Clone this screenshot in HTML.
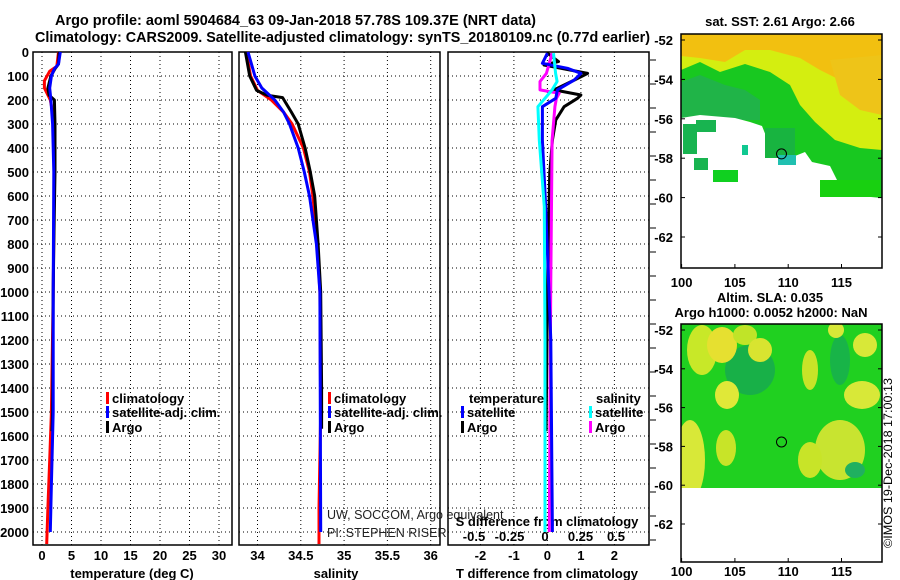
<!DOCTYPE html>
<html><head><meta charset="utf-8">
<style>
html,body{margin:0;padding:0;background:#fff;}
svg{display:block;font-family:"Liberation Sans",sans-serif;}
.b{font-weight:bold;font-size:13px;}
</style></head>
<body>
<svg id="chart" width="900" height="580" viewBox="0 0 900 580">
<defs>
<clipPath id="slaclip"><rect x="681" y="324" width="201" height="164"/></clipPath>
</defs>
<text class="b" x="55" y="25" textLength="481" lengthAdjust="spacingAndGlyphs" style="font-size:15px">Argo profile: aoml 5904684_63 09-Jan-2018 57.78S 109.37E (NRT data)</text>
<text class="b" x="35" y="42" textLength="615" lengthAdjust="spacingAndGlyphs" style="font-size:15px">Climatology: CARS2009. Satellite-adjusted climatology: synTS_20180109.nc (0.77d earlier)</text>
<g id="panels"></g>
<g id="maps">
<g>
<rect x="681" y="34" width="201" height="166" fill="#d4ee10"/>
<polygon points="681,34 882,34 882,75 850,85 820,70 800,58 770,50 745,50 725,62 700,58 681,56" fill="#f2c010"/>
<polygon points="830,60 882,55 882,115 860,110 840,95" fill="#eec418"/>
<polygon points="681,70 700,62 720,72 745,64 770,72 790,85 800,105 815,122 835,140 860,148 882,150 882,200 681,200" fill="#18c820"/>
<polygon points="681,82 700,75 725,85 745,90 760,100 760,120 681,120" fill="#20b448"/>
<polygon points="681,118 700,115 735,118 750,122 762,126 766,136 790,142 795,156 805,152 812,162 830,166 838,182 860,196 882,198 882,268 681,268" fill="#fff"/>
<rect x="683" y="124" width="14" height="30" fill="#18b450"/>
<rect x="696" y="120" width="20" height="12" fill="#18b450"/>
<rect x="694" y="158" width="14" height="12" fill="#18b450"/>
<rect x="742" y="145" width="6" height="10" fill="#10c890"/>
<rect x="713" y="170" width="25" height="12" fill="#10d020"/>
<rect x="765" y="128" width="30" height="30" fill="#18b440"/>
<rect x="778" y="155" width="18" height="10" fill="#20c0b0"/>
<rect x="820" y="180" width="60" height="17" fill="#18d010"/>
<rect x="681" y="34" width="201" height="234" fill="none" stroke="#000" stroke-width="1.5"/>
<circle cx="781.5" cy="153.9" r="5" fill="none" stroke="#000" stroke-width="1"/>
</g>
<g>
<g clip-path="url(#slaclip)">
<rect x="681" y="324" width="201" height="164" fill="#20d020"/>
<ellipse cx="702" cy="350" rx="15" ry="25" fill="#c8e828"/>
<ellipse cx="750" cy="370" rx="25" ry="25" fill="#18b048"/>
<ellipse cx="722" cy="345" rx="15" ry="18" fill="#e6e030"/>
<ellipse cx="745" cy="335" rx="12" ry="10" fill="#c0e428"/>
<ellipse cx="760" cy="350" rx="12" ry="12" fill="#d8e430"/>
<ellipse cx="727" cy="395" rx="12" ry="14" fill="#e0e838"/>
<ellipse cx="690" cy="460" rx="15" ry="40" fill="#d8e838"/>
<ellipse cx="726" cy="448" rx="10" ry="18" fill="#c8e428"/>
<ellipse cx="810" cy="370" rx="8" ry="20" fill="#c8e428"/>
<ellipse cx="840" cy="360" rx="10" ry="25" fill="#18b448"/>
<ellipse cx="862" cy="395" rx="18" ry="14" fill="#d8e838"/>
<ellipse cx="840" cy="450" rx="25" ry="30" fill="#c8e430"/>
<ellipse cx="810" cy="460" rx="12" ry="18" fill="#c8e428"/>
<ellipse cx="865" cy="345" rx="12" ry="12" fill="#d8e838"/>
<ellipse cx="836" cy="330" rx="8" ry="8" fill="#d8e838"/>
<ellipse cx="855" cy="470" rx="10" ry="8" fill="#20b060"/>
</g>
<rect x="681" y="324" width="201" height="238" fill="none" stroke="#000" stroke-width="1.5"/>
<circle cx="781.5" cy="442" r="5" fill="none" stroke="#000" stroke-width="1"/>
</g>
<text class="b" x="780" y="26" text-anchor="middle">sat. SST: 2.61 Argo: 2.66</text>
<text class="b" x="770" y="302" text-anchor="middle">Altim. SLA: 0.035</text>
<text class="b" x="771" y="317" text-anchor="middle">Argo h1000: 0.0052 h2000: NaN</text>
<text x="892" y="548" transform="rotate(-90 892 548)" style="font-size:12px" textLength="170" lengthAdjust="spacingAndGlyphs">©IMOS 19-Dec-2018 17:00:13</text>
<g id="mapaxes"></g>
</g>
</svg>
<script>
const tArgoDepth=[0,50,70,100,150,180,200,300,400,500,800,1000,1500,1580];
const tArgo=[2.9,2.8,2.2,1.5,1.0,1.2,2.1,2.2,2.2,2.2,2.0,1.9,1.8,1.7];
const tClimDepth=[0,60,80,120,150,200,250,300,500,1000,1500,1700,1900,2050];
const tClim=[2.8,2.5,1.3,0.4,0.4,1.4,1.8,2.0,2.1,1.9,1.6,1.3,1.0,0.8];
const tSatDepth=[0,50,70,100,150,200,300,500,1000,1500,1800,2000];
const tSat=[3.1,2.8,2.1,1.6,1.3,1.5,1.8,2.0,1.9,1.9,1.6,1.4];
const sArgoDepth=[0,100,160,180,190,250,300,400,500,600,800,1000,1400,1570];
const sArgo=[33.86,33.91,33.99,34.11,34.29,34.39,34.47,34.55,34.61,34.66,34.70,34.73,34.74,34.74];
const sClimDepth=[0,100,160,200,250,300,400,500,600,800,1000,1500,1900,2050];
const sClim=[33.87,33.92,34.0,34.16,34.3,34.4,34.53,34.6,34.64,34.69,34.72,34.73,34.71,34.71];
const sSatDepth=[0,100,150,200,250,300,400,500,600,800,1000,2000];
const sSat=[33.89,33.97,34.05,34.2,34.3,34.37,34.47,34.54,34.6,34.68,34.72,34.73];
const dtArgoDepth=[5,40,54,89,117,158,179,193,228,283,367,506,1000,1580];
const dtArgo=[0,0.33,-0.1,1.2,0.8,0.2,1.0,0.9,0.5,0.25,0.15,0.07,0.0,-0.04];
const dtSatDepth=[5,47,68,89,117,158,193,228,367,645,1200,2000];
const dtSat=[0,-0.15,0.6,1.0,0.8,0.3,0.25,-0.15,-0.15,-0.05,0.1,0.15];
const dsArgoDepth=[5,89,123,158,172,193,228,367,1000,2000];
const dsArgo=[0.05,0.01,-0.035,-0.035,0.1,0.08,0.07,0.05,0.04,0.03];
const dsSatDepth=[5,89,123,158,228,367,645,1200,2000];
const dsSat=[0.06,0.075,0.085,0.05,-0.05,-0.04,-0.005,0.0,0.0];
const depthTicks=[0,100,200,300,400,500,600,700,800,900,1000,1100,1200,1300,1400,1500,1600,1700,1800,1900,2000];
const tTicks=[0,5,10,15,20,25,30];
const sTicks=[34,34.5,35,35.5,36];
const sTickLabels=["34","34.5","35","35.5","36"];
const dtTicks=[-2,-1,0,1,2];
const dsTicks=[-0.5,-0.25,0,0.25,0.5];
const dsTickLabels=["-0.5","-0.25","0","0.25","0.5"];
const latTicks=[-52,-54,-56,-58,-60,-62];
const lonTicks=[100,105,110,115];

const NS='http://www.w3.org/2000/svg';
const yD=d=>52+d*0.24;
const xT=v=>42+5.9*v;
const xS=v=>257.5+86.6*(v-34);
const xDT=v=>547.4+33.5*v;
const xDS=v=>545+142*v;
function el(tag,attrs,parent){const e=document.createElementNS(NS,tag);for(const k in attrs)e.setAttribute(k,attrs[k]);parent.appendChild(e);return e;}
const P=document.getElementById('panels');
const panels=[[33,232],[239,440],[448,649]];
const pTop=52,pBot=545;
panels.forEach((p,i)=>{
  const r=el('rect',{x:p[0],y:pTop,width:p[1]-p[0],height:pBot-pTop,fill:'none',stroke:'#000','stroke-width':1.5},P);
  
  
  depthTicks.forEach(d=>{
    const l=el('line',{x1:p[0],x2:p[1],y1:yD(d),y2:yD(d),stroke:'#000','stroke-width':1,'stroke-dasharray':'1,3'},P);
    
    
  });
});
function vgrid(ticks,fx){ticks.forEach(t=>{const l=el('line',{x1:fx(t),x2:fx(t),y1:pTop,y2:pBot,stroke:'#000','stroke-width':1,'stroke-dasharray':'1,3'},P);
  
  });}
vgrid(tTicks,xT);vgrid(sTicks,xS);vgrid(dtTicks,xDT);
depthTicks.forEach(d=>{const t=el('text',{x:29,y:yD(d)+5,'text-anchor':'end',class:'b'},P);t.textContent=d;
  
  
  const m=el('line',{x1:650,x2:656,y1:yD(d)+8,y2:yD(d)+8,stroke:'#000'},P);
  
  });
function xlabels(ticks,labels,fx,y,name){ticks.forEach((v,i)=>{const t=el('text',{x:fx(v),y:y,'text-anchor':'middle',class:'b'},P);t.textContent=labels?labels[i]:v;
  
  });}
xlabels(tTicks,null,xT,560,'temperature-tick-label');
xlabels(sTicks,sTickLabels,xS,560,'salinity-tick-label');
xlabels(dtTicks,null,xDT,560,'t-diff-tick-label');
xlabels(dsTicks,dsTickLabels,xDS,541,'s-diff-tick-label');
function lbl(x,y,s,name,extra){const t=el('text',Object.assign({x:x,y:y,class:'b'},extra||{}),P);t.textContent=s;
  
  return t;}
lbl(132,578,'temperature (deg C)','temperature-axis-title',{'text-anchor':'middle'});
lbl(336,578,'salinity','salinity-axis-title',{'text-anchor':'middle'});
lbl(547,578,'T difference from climatology','t-diff-axis-title',{'text-anchor':'middle'});
lbl(547,526,'S difference from climatology','s-diff-axis-title',{'text-anchor':'middle'});
function series(xs,ds,fx,color,name,w){
  const pts=xs.map((v,i)=>{const x=fx(v),y=yD(ds[i]);return x.toFixed(1)+','+y.toFixed(1);}).join(' ');
  const pl=el('polyline',{points:pts,fill:'none',stroke:color,'stroke-width':w||3,'stroke-linejoin':'round'},P);
  
  
}
series(tClim,tClimDepth,xT,'#f00','temperature-climatology-line');
series(tArgo,tArgoDepth,xT,'#000','temperature-argo-line');
series(tSat,tSatDepth,xT,'#00f','temperature-satellite-line');
series(sClim,sClimDepth,xS,'#f00','salinity-climatology-line');
series(sArgo,sArgoDepth,xS,'#000','salinity-argo-line');
series(sSat,sSatDepth,xS,'#00f','salinity-satellite-line');
series(dtArgo,dtArgoDepth,xDT,'#000','t-diff-argo-line');
series(dsArgo,dsArgoDepth,xDS,'#f0f','s-diff-argo-line');
series(dtSat,dtSatDepth,xDT,'#00f','t-diff-satellite-line');
series(dsSat,dsSatDepth,xDS,'#0ff','s-diff-satellite-line');
function legend(x,y,color,s,name){
  const m=el('rect',{x:x,y:y-11,width:3,height:12,fill:color},P);
  
  
  lbl(x+6,y,s,name);
}
legend(106,403,'#f00','climatology','legend-t-climatology');
legend(106,417,'#00f','satellite-adj. clim.','legend-t-satellite');
legend(106,432,'#000','Argo','legend-t-argo');
legend(328,403,'#f00','climatology','legend-s-climatology');
legend(328,417,'#00f','satellite-adj. clim.','legend-s-satellite');
legend(328,432,'#000','Argo','legend-s-argo');
lbl(469,403,'temperature','legend-temperature-header');
legend(461,417,'#00f','satellite','legend-dt-satellite');
legend(461,432,'#000','Argo','legend-dt-argo');
lbl(596,403,'salinity','legend-salinity-header');
legend(589,417,'#0ff','satellite','legend-ds-satellite');
legend(589,432,'#f0f','Argo','legend-ds-argo');
const n1=lbl(327,519,'UW, SOCCOM, Argo equivalent','pi-credit-1');n1.setAttribute('class','');n1.setAttribute('style','font-size:12.5px;fill:#222');
const n2=lbl(327,537,'PI: STEPHEN RISER','pi-credit-2');n2.setAttribute('class','');n2.setAttribute('style','font-size:12.5px;fill:#222');
const MA=document.getElementById('mapaxes');
const lonX=v=>681.6+10.66*(v-100);
[[40,19.7,268,287],[330,19.4,562,576]].forEach((m)=>{
  latTicks.forEach(v=>{const y=m[0]+m[1]*(-52-v);
    const t=el('text',{x:673,y:y+5,'text-anchor':'end',class:'b'},MA);t.textContent=v;
    
    
    const l=el('line',{x1:681,x2:685,y1:y,y2:y,stroke:'#000'},MA);
    
    
    const l2=el('line',{x1:878,x2:882,y1:y,y2:y,stroke:'#000'},MA);
    
    });
  lonTicks.forEach(v=>{const x=lonX(v);
    const t=el('text',{x:x,y:m[3],'text-anchor':'middle',class:'b'},MA);t.textContent=v;
    
    
    const l=el('line',{x1:x,x2:x,y1:m[2]-4,y2:m[2],stroke:'#000'},MA);
    
    });
});
</script>
</body></html>
